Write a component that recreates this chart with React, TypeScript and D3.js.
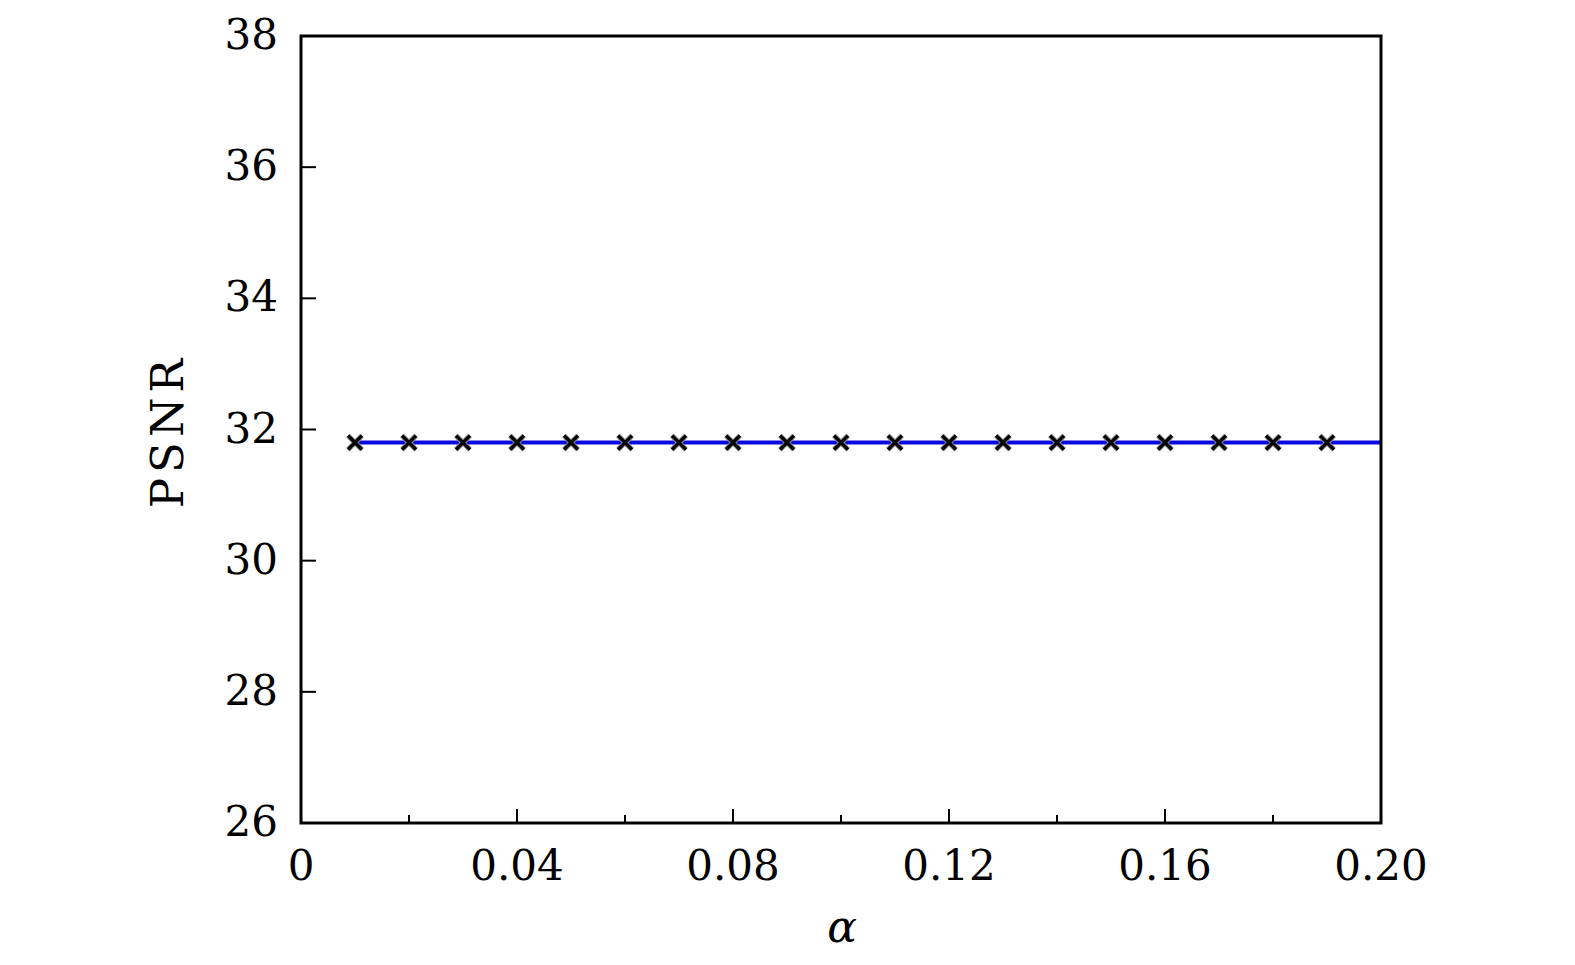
import React, { useEffect, useRef } from 'react';
import * as d3 from 'd3';

// alpha values and PSNR readings
const alphas = [0.01, 0.02, 0.03, 0.04, 0.05, 0.06, 0.07, 0.08, 0.09, 0.1, 0.11, 0.12, 0.13, 0.14, 0.15, 0.16, 0.17, 0.18, 0.19, 0.2];
const psnr = [31.8, 31.8, 31.8, 31.8, 31.8, 31.8, 31.8, 31.8, 31.8, 31.8, 31.8, 31.8, 31.8, 31.8, 31.8, 31.8, 31.8, 31.8, 31.8, 31.8];
const xMajor = [0, 0.04, 0.08, 0.12, 0.16, 0.2];
const xMinor = [0.02, 0.06, 0.1, 0.14, 0.18];
const xLabels = ['0', '0.04', '0.08', '0.12', '0.16', '0.20'];
const yTicks = [26, 28, 30, 32, 34, 36, 38];

const W = 1575, H = 965;
const margin = { left: 301, right: 194, top: 36, bottom: 142 };
const FONT = '"DejaVu Serif", "Liberation Serif", serif';

function Chart() {
    const ref = useRef<SVGSVGElement>(null);

    useEffect(() => {
        const svg = d3.select(ref.current);
        svg.selectAll('*').remove();

        const iw = W - margin.left - margin.right;
        const ih = H - margin.top - margin.bottom;

        const x = d3.scaleLinear().domain([0, 0.2]).range([0, iw]);
        const y = d3.scaleLinear().domain([26, 38]).range([ih, 0]);

        const g = svg.append('g').attr('transform', `translate(${margin.left},${margin.top})`);

        svg.append('defs').append('clipPath').attr('id', 'plotclip')
            .append('rect').attr('width', iw).attr('height', ih);

        // inward ticks
        g.selectAll('.xmaj').data(xMajor).join('line')
            .attr('x1', d => x(d)).attr('x2', d => x(d))
            .attr('y1', ih).attr('y2', ih - 14)
            .attr('stroke', '#000').attr('stroke-width', 2);
        g.selectAll('.xmin').data(xMinor).join('line')
            .attr('x1', d => x(d)).attr('x2', d => x(d))
            .attr('y1', ih).attr('y2', ih - 8)
            .attr('stroke', '#000').attr('stroke-width', 2);
        g.selectAll('.ytk').data(yTicks).join('line')
            .attr('x1', 0).attr('x2', 15)
            .attr('y1', d => y(d)).attr('y2', d => y(d))
            .attr('stroke', '#000').attr('stroke-width', 2);

        // data
        const plot = g.append('g').attr('clip-path', 'url(#plotclip)');
        const pts = alphas.map((a, i) => [a, psnr[i]] as [number, number]);
        const line = d3.line<[number, number]>().x(d => x(d[0])).y(d => y(d[1]));
        plot.append('path').datum(pts).attr('d', line)
            .attr('fill', 'none').attr('stroke', '#0a0ae0').attr('stroke-width', 4);

        const s = 7;
        const cross = (d: [number, number]) => {
            const cx = x(d[0]), cy = y(d[1]);
            return `M${cx - s},${cy - s}L${cx + s},${cy + s}M${cx - s},${cy + s}L${cx + s},${cy - s}`;
        };
        plot.selectAll('.mk-o').data(pts.filter(d => d[0] < 0.2)).join('path')
            .attr('d', cross).attr('stroke', '#888').attr('stroke-width', 5).attr('fill', 'none');
        plot.selectAll('.mk').data(pts.filter(d => d[0] < 0.2)).join('path')
            .attr('d', cross).attr('stroke', '#000').attr('stroke-width', 3.4).attr('fill', 'none');

        // frame
        g.append('rect').attr('width', iw).attr('height', ih)
            .attr('fill', 'none').attr('stroke', '#000').attr('stroke-width', 3);

        // tick labels
        g.selectAll('.xl').data(xMajor).join('text')
            .attr('x', d => x(d)).attr('y', ih + 57)
            .attr('text-anchor', 'middle')
            .style('font-family', FONT).style('font-size', '42px')
            .text((d, i) => xLabels[i]);
        g.selectAll('.yl').data(yTicks).join('text')
            .attr('x', -23).attr('y', d => y(d) + 13)
            .attr('text-anchor', 'end')
            .style('font-family', FONT).style('font-size', '42px')
            .text(d => d);

        // axis titles
        svg.append('text')
            .attr('transform', `translate(183,431) rotate(-90)`)
            .attr('text-anchor', 'middle')
            .style('font-family', FONT).style('font-size', '45px')
            .style('letter-spacing', '5px')
            .text('PSNR');
        svg.append('text')
            .attr('x', 842).attr('y', 942)
            .attr('text-anchor', 'middle')
            .style('font-family', FONT).style('font-size', '44px').style('font-style', 'italic')
            .text('α');
    }, []);

    return <svg ref={ref} width={W} height={H} style={{ display: 'block', background: '#fff' }} />;
}

export default function App() {
    return <div style={{ margin: -8 }}><Chart /></div>;
}
